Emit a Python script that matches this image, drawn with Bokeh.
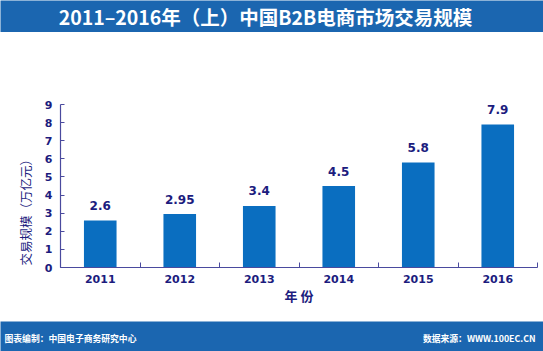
import math
from bokeh.plotting import figure
from bokeh.layouts import column, row
from bokeh.models import ColumnDataSource, FixedTicker, LinearAxis, Title
from bokeh.core.properties import value
from bokeh.embed import file_html
from bokeh.resources import INLINE

# ---- data ----
years = ["2011", "2012", "2013", "2014", "2015", "2016"]
scale = [2.6, 2.95, 3.4, 4.5, 5.8, 7.9]
scale_labels = ["2.6", "2.95", "3.4", "4.5", "5.8", "7.9"]
title_text = "2011–2016年（上）中国B2B电商市场交易规模"
y_title = "交易规模（万亿元）"
x_title = "年 份"
footer_left = "图表编制：中国电子商务研究中心"
footer_right = "数据来源：WWW.100EC.CN"

W = 543
LEFT = 60
RIGHT = 6
BLUE = "#1b66b0"
BAR = "#0a6ec0"
NAVY = "#1c1c7e"
AXIS = "#4a4a9e"
CJK = "Noto Sans CJK SC"
LAT = "DejaVu Sans"


def band(height):
    f = figure(width=W, height=height, output_backend="svg", toolbar_location=None,
               x_range=(0, W), y_range=(0, 1), min_border=0,
               x_axis_location=None, y_axis_location=None)
    f.grid.visible = False
    f.outline_line_color = None
    f.background_fill_color = BLUE
    f.border_fill_color = BLUE
    return f


# ---- header ----
hdr = band(32)
hdr.text(x=[265], y=[0.5], text=[title_text], text_align="center",
         text_baseline="middle", text_color="white", text_font_size="19.5px",
         text_font_style="bold", text_font=value(CJK))

# ---- main chart ----
idx = [i + 0.5 for i in range(len(years))]
src = ColumnDataSource(dict(x=idx, y=scale, lab=scale_labels))

H = 289
TOP = 72
p = figure(width=W, height=H, output_backend="svg", toolbar_location=None,
           x_range=(0, len(years)), y_range=(0, 9),
           min_border_left=LEFT, min_border_right=RIGHT, min_border_top=TOP,
           min_border_bottom=H - TOP - 163, x_axis_location=None)
p.grid.visible = False
p.outline_line_color = None
p.background_fill_color = "white"
p.border_fill_color = "white"

p.vbar(x="x", top="y", width=0.41, source=src, fill_color=BAR, line_color=None)
p.text(x="x", y="y", text="lab", source=src, text_align="center",
       text_baseline="middle", y_offset=-15, text_color=NAVY,
       text_font_size="12px", text_font_style="bold", text_font=value(LAT))

xt = FixedTicker(ticks=idx, minor_ticks=list(range(0, len(years) + 1)))
xa = LinearAxis(ticker=xt)
xa.major_label_overrides = {v: y for v, y in zip(idx, years)}
xa.major_tick_line_color = None
xa.minor_tick_line_color = AXIS
xa.minor_tick_in = 5
xa.minor_tick_out = 0
xa.axis_line_color = AXIS
xa.axis_line_width = 1.2
xa.major_label_text_color = NAVY
xa.major_label_text_font = LAT
xa.major_label_text_font_style = "bold"
xa.major_label_text_font_size = "11px"
xa.major_label_standoff = 1
xa.axis_label = x_title
xa.axis_label_text_font = CJK
xa.axis_label_text_font_style = "bold"
xa.axis_label_text_font_size = "13px"
xa.axis_label_text_color = NAVY
xa.axis_label_standoff = 0
p.add_layout(xa, "below")

ya = p.yaxis[0]
ya.ticker = FixedTicker(ticks=list(range(0, 10)))
ya.axis_line_color = AXIS
ya.axis_line_width = 1.2
ya.major_tick_line_color = AXIS
ya.major_tick_in = 4
ya.major_tick_out = 0
ya.minor_tick_line_color = None
ya.major_label_text_color = NAVY
ya.major_label_text_font = LAT
ya.major_label_text_font_style = "bold"
ya.major_label_text_font_size = "11px"
ya.major_label_standoff = 8

ytitle = Title(text=y_title, align="left", offset=2, standoff=13,
               text_color=NAVY, text_font_size="12.5px", text_font=CJK,
               text_font_style="normal")
p.add_layout(ytitle, "left")

# ---- footer ----
ftr = band(30)
ftr.text(x=[4], y=[0.45], text=[footer_left], text_align="left",
         text_baseline="middle", text_color="white", text_font_size="8.8px",
         text_font_style="bold", text_font=value(CJK))
ftr.text(x=[535], y=[0.45], text=[footer_right], text_align="right",
         text_baseline="middle", text_color="white", text_font_size="8.8px",
         text_font_style="bold", text_font=value(CJK))

layout = column(row(hdr), p, row(ftr), spacing=0)
open("out.html", "w").write(file_html(layout, INLINE))
